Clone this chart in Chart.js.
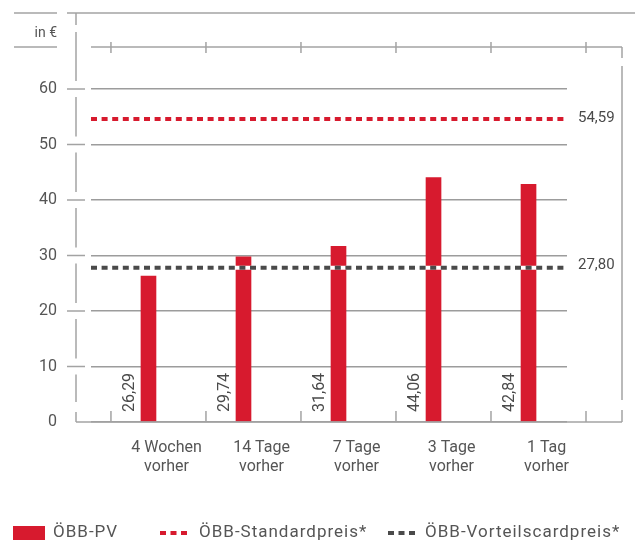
<!DOCTYPE html>
<html>
<head>
<meta charset="utf-8">
<script src="https://cdn.jsdelivr.net/npm/chart.js@4.4.1/dist/chart.umd.min.js"></script>
<style>
  html, body { margin: 0; padding: 0; background: #fff; }
  #wrap { width: 637px; height: 544px; }
</style>
</head>
<body>
<div id="wrap"><canvas id="preise" width="637" height="544"></canvas></div>
<script>
const categories = [["4 Wochen", "vorher"], ["14 Tage", "vorher"], ["7 Tage", "vorher"], ["3 Tage", "vorher"], ["1 Tag", "vorher"]];
const pvPrices = [26.29, 29.74, 31.64, 44.06, 42.84];
const standardPrice = 54.59;
const vorteilsPrice = 27.80;
const seriesNames = ["ÖBB-PV", "ÖBB-Standardpreis*", "ÖBB-Vorteilscardpreis*"];
const yTickValues = [0, 10, 20, 30, 40, 50, 60];

const RED = "#d71a2e";
const DARK = "#4a4a4a";
const LINE = "#a3a3a3";
const TEXT = "#555";
const FONT = "Roboto";

// x range so that bars land where the original had them (not centred in the frame)
const xMin = -0.605;
const xMax = 4.405;

const fmt = (v) => v.toFixed(2).replace(".", ",");

const frame = {
    id: "frame",
    afterDraw: (chart) => {
        const ctx = chart.ctx;
        const x = chart.scales.x;
        const y = chart.scales.y;
        const base = y.getPixelForValue(0);
        const right = 622;
        const axisX = 76;
        const tickXs = [0, 1, 2, 3, 4, 5].map((i) => x.getPixelForValue(i - 0.395));

        ctx.save();
        ctx.strokeStyle = LINE;
        ctx.lineWidth = 1.5;
        const seg = (x1, y1, x2, y2) => {
            ctx.beginPath();
            ctx.moveTo(x1, y1);
            ctx.lineTo(x2, y2);
            ctx.stroke();
        };

        // top lines
        seg(14, 13, 57, 13);
        seg(67, 13, 635, 13);
        seg(14, 47, 57, 47);

        // top ruler
        seg(91, 47, right, 47);
        tickXs.forEach((tx) => seg(tx, 42, tx, 53));

        // right side
        seg(right, 47, right, 58);
        seg(right, 66, right, 400);
        seg(right, 410, right, base);

        // bottom line with ticks
        seg(axisX, base, right, base);
        tickXs.forEach((tx) => seg(tx, base - 11, tx, base));

        // broken left axis
        const gaps = [[25, 32]];
        yTickValues.slice(1).forEach((v) => {
            const py = y.getPixelForValue(v);
            gaps.push([py - 8, py + 8]);
            seg(67, py, 85, py);
        });
        gaps.push([base - 20, base - 10]);
        gaps.sort((a, b) => a[0] - b[0]);
        let start = 13;
        gaps.forEach((g) => {
            seg(axisX, start, axisX, g[0]);
            start = g[1];
        });
        seg(axisX, start, axisX, base);

        ctx.fillStyle = TEXT;
        ctx.font = "14px " + FONT;
        ctx.textAlign = "right";
        ctx.textBaseline = "middle";
        ctx.fillText("in €", 57, 33);

        // values of the reference lines
        ctx.font = "15px " + FONT;
        ctx.textAlign = "left";
        ctx.fillStyle = DARK;
        ctx.fillText(fmt(standardPrice), 578, y.getPixelForValue(standardPrice) - 1);
        ctx.fillText(fmt(vorteilsPrice), 578, y.getPixelForValue(vorteilsPrice) - 2);

        // rotated bar values
        const meta = chart.getDatasetMeta(0);
        meta.data.forEach((bar, i) => {
            ctx.save();
            ctx.translate(bar.x - 18.5, base - 10);
            ctx.rotate(-Math.PI / 2);
            ctx.textAlign = "left";
            ctx.textBaseline = "middle";
            ctx.fillStyle = DARK;
            ctx.font = "16px " + FONT;
            ctx.fillText(fmt(pvPrices[i]), 0, 0);
            ctx.restore();
        });

        // legend
        const ly = 533;
        ctx.font = "17px " + FONT;
        ctx.letterSpacing = "1px";
        ctx.textBaseline = "middle";
        ctx.fillStyle = chart.data.datasets[0].backgroundColor;
        ctx.fillRect(13, ly - 7, 32, 14);
        ctx.fillStyle = TEXT;
        ctx.fillText(seriesNames[0], 53, ly);

        const dashes = (x0, color) => {
            ctx.fillStyle = color;
            for (let k = 0; k < 3; k++) ctx.fillRect(x0 + k * 10.5, ly - 2, 6, 4);
        };
        dashes(160, RED);
        ctx.fillStyle = TEXT;
        ctx.fillText(seriesNames[1], 199, ly);
        dashes(388, DARK);
        ctx.fillStyle = TEXT;
        ctx.fillText(seriesNames[2], 425, ly);
        ctx.letterSpacing = "0px";

        ctx.restore();
    },
};

const refLine = (value) => [{ x: xMin, y: value }, { x: xMax, y: value }];

const chart = new Chart(document.getElementById("preise"), {
    type: "bar",
    data: {
        datasets: [
            {
                label: seriesNames[0],
                data: pvPrices.map((v, i) => ({ x: i, y: v })),
                backgroundColor: RED,
                barThickness: 15,
                order: 2,
            },
            {
                type: "line",
                label: seriesNames[1],
                data: refLine(standardPrice),
                borderColor: RED,
                borderWidth: 4,
                borderDash: [6, 4.6],
                pointRadius: 0,
                order: 0,
            },
            {
                // white backing so the dashes stay readable over the bars
                type: "line",
                label: "",
                data: refLine(vorteilsPrice),
                borderColor: "#ffffff",
                borderWidth: 4,
                pointRadius: 0,
                order: 1,
            },
            {
                type: "line",
                label: seriesNames[2],
                data: refLine(vorteilsPrice),
                borderColor: DARK,
                borderWidth: 4,
                borderDash: [6, 4.6],
                pointRadius: 0,
                order: 0,
            },
        ],
    },
    options: {
        responsive: false,
        animation: false,
        layout: {
            padding: { top: 89, right: 70, bottom: 0, left: 0 },
        },
        scales: {
            x: {
                type: "linear",
                min: xMin,
                max: xMax,
                offset: false,
                afterBuildTicks: (scale) => {
                    scale.ticks = categories.map((c, i) => ({ value: i + 0.19 }));
                },
                afterFit: (scale) => {
                    scale.height = 122;
                },
                ticks: {
                    autoSkip: false,
                    maxRotation: 0,
                    padding: 16,
                    color: TEXT,
                    font: { family: FONT, size: 16 },
                    callback: (value, index) => categories[index],
                },
                grid: { display: false, drawTicks: false },
                border: { display: false },
            },
            y: {
                min: 0,
                max: 60,
                afterBuildTicks: (scale) => {
                    scale.ticks = yTickValues.map((v) => ({ value: v }));
                },
                afterFit: (scale) => {
                    scale.width = 91;
                },
                ticks: {
                    padding: 34,
                    color: TEXT,
                    font: { family: FONT, size: 16 },
                },
                grid: {
                    color: "#9c9c9c",
                    lineWidth: 1.5,
                    drawTicks: false,
                },
                border: { display: false },
            },
        },
        plugins: {
            legend: { display: false },
            tooltip: { enabled: false },
        },
    },
    plugins: [frame],
});
</script>
</body>
</html>
